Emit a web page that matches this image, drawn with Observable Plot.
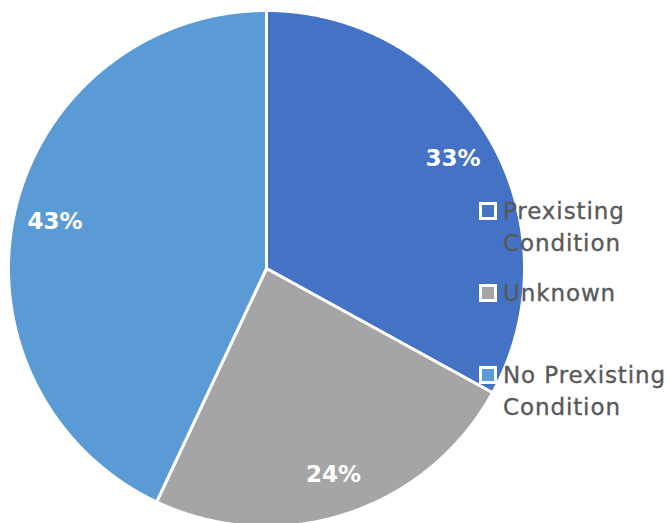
<!DOCTYPE html>
<html><head><meta charset="utf-8">
<script src="https://cdn.jsdelivr.net/npm/d3@7"></script>
<script src="https://cdn.jsdelivr.net/npm/@observablehq/plot@0.6"></script>
<style>
html,body{margin:0;padding:0;background:#fff;}
#wrap{position:relative;width:670px;height:523px;overflow:hidden;}
.item{position:absolute;left:479px;display:flex;align-items:flex-start;font-family:"DejaVu Sans",sans-serif;font-size:23px;line-height:32px;color:#595959;letter-spacing:0.9px;-webkit-text-stroke:0.35px #595959;}
.box{width:12px;height:12px;border:3px solid #fff;margin-top:7px;margin-right:6px;flex:none;}
.txt{width:168px;}
</style></head>
<body><div id="wrap"></div>
<script>
const categories = ["Prexisting Condition", "Unknown", "No Prexisting Condition"];
const values = [33, 24, 43];
const labels = ["33%", "24%", "43%"];
const colors = ["#4472C4", "#A5A5A5", "#5B9BD5"];

const R = 258;
const arcs = d3.pie().sort(null)(values);
const pts = [];
arcs.forEach((a, i) => {
  pts.push({cat: categories[i], x: 0, y: 0});
  const n = Math.ceil((a.endAngle - a.startAngle) / 0.005);
  for (let k = 0; k <= n; k++) {
    const t = a.startAngle + (a.endAngle - a.startAngle) * k / n;
    pts.push({cat: categories[i], x: R * Math.sin(t), y: R * Math.cos(t)});
  }
  pts.push({cat: categories[i], x: 0, y: 0});
});
const lab = arcs.map((a, i) => {
  const m = (a.startAngle + a.endAngle) / 2;
  return {text: labels[i], x: 0.84 * R * Math.sin(m), y: 0.84 * R * Math.cos(m)};
});

const chart = Plot.plot({
  width: 670, height: 523,
  margin: 0,
  x: {domain: [-266, 404], axis: null},
  y: {domain: [-255, 268], axis: null},
  color: {domain: categories, range: colors},
  marks: [
    Plot.line(pts, {x: "x", y: "y", z: "cat", fill: "cat", stroke: "white", strokeWidth: 3, strokeLinejoin: "round"}),
    Plot.text(lab, {x: "x", y: "y", text: "text", fill: "white", fontSize: 23, fontWeight: "bold", fontFamily: "DejaVu Sans, sans-serif"})
  ]
});
const wrap = document.getElementById("wrap");
wrap.appendChild(chart);

const tops = [195, 277, 359];
categories.forEach((c, i) => {
  const d = document.createElement("div");
  d.className = "item";
  d.style.top = tops[i] + "px";
  const b = document.createElement("div");
  b.className = "box";
  b.style.background = colors[i];
  const t = document.createElement("div");
  t.className = "txt";
  t.textContent = c;
  d.appendChild(b); d.appendChild(t);
  wrap.appendChild(d);
});
</script></body></html>
